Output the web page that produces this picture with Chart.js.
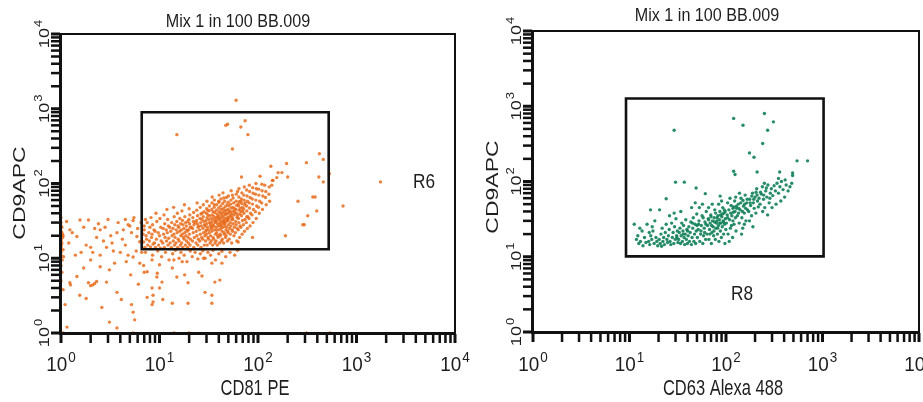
<!DOCTYPE html>
<html>
<head>
<meta charset="utf-8">
<script src="https://cdn.jsdelivr.net/npm/chart.js@4.4.1/dist/chart.umd.min.js"></script>
<style>
  html, body { margin: 0; padding: 0; background: #fff; }
  #wrap { position: relative; width: 923px; height: 402px; overflow: hidden; }
  #left { position: absolute; left: 0; top: 0; }
  #right { position: absolute; left: 470px; top: 0; }
</style>
</head>
<body>
<div id="wrap">
  <canvas id="left" width="470" height="402"></canvas>
  <canvas id="right" width="453" height="402"></canvas>
</div>
<script>
// axis decades (log scale 10^0 .. 10^4) and minor tick multipliers
const decades = [1, 10, 100, 1000, 10000];
const minorSteps = [2, 3, 4, 5, 6, 7, 8, 9];

// gates (x range, y range)
const gateR6X = [6.6, 522];
const gateR6Y = [13.2, 897];
const gateR8X = [9.2, 1026];
const gateR8Y = [10.1, 1268];

// left plot: CD81 PE (x) vs CD9APC (y), events
const cd81Cluster = [
  [7.1,14],[6.9,16.5],[7.3,20],[7.0,24],[7.6,15],[7.4,18],[7.8,22],[7.5,30],
  [8.1,14.2],[7.9,17],[8.3,19],[8.0,26],[8.2,35],[8.6,15.5],[8.4,21],[8.8,24],[8.5,28],
  [9.1,14],[8.9,16],[9.3,18],[9.0,23],[9.4,31],[9.2,40],
  [10.2,13.6],[9.8,15],[10.4,17],[10.0,20],[9.7,22],[10.3,26],[10.1,34],
  [11.2,14],[10.8,16],[11.4,19],[11.0,21],[10.9,25],[11.3,29],[11.1,38],
  [12.2,15],[11.8,17],[12.4,18.5],[12.0,22],[11.7,24],[12.3,27],[12.1,33],[11.9,45],
  [13.2,14],[12.8,16],[13.4,20],[13.0,23],[12.7,26],[13.3,30],
  [14.2,15],[13.8,17],[14.4,19],[14.0,21],[13.7,25],[14.3,28],[14.1,36],[13.9,48],
  [15.3,14],[14.7,16],[15.5,18],[15.1,22],[14.8,24],[15.4,27],[15.0,31],[15.2,40],
  [16.3,15],[15.8,17],[16.5,20],[16.0,23],[15.7,26],[16.4,29],[16.1,34],
  [17.2,14],[16.8,16],[17.5,19],[17.0,21],[16.7,24],[17.3,28],[17.1,32],[16.9,43],
  [18.3,15],[17.8,18],[18.5,20],[18.0,22],[17.7,25],[18.4,30],[18.1,36],[17.9,52],
  [19.3,14],[18.8,17],[19.5,19],[19.0,23],[18.7,27],[19.4,31],
  [20.4,15],[19.7,16],[20.6,18],[20.1,21],[19.8,24],[20.5,26],[20.2,29],[19.9,33],[20.3,38],[20.0,46],
  [22.3,14],[21.6,17],[22.6,19],[22.0,22],[21.7,25],[22.4,28],[22.1,31],[21.8,35],[22.2,41],
  [24.5,15],[23.5,16],[24.8,18],[24.0,20],[23.6,23],[24.6,26],[24.2,29],[23.8,32],[24.3,37],[23.9,44],[24.1,55],
  [26.4,14],[25.6,17],[26.8,19],[26.0,21],[25.5,24],[26.6,27],[26.2,30],[25.8,34],[26.3,39],[25.9,48],
  [28.5,15],[27.5,18],[28.9,20],[28.0,22],[27.6,25],[28.7,28],[28.2,31],[27.8,36],[28.3,42],[27.9,52],
  [30.5,15],[29.4,17],[31.0,19],[30.0,21],[29.5,23],[30.7,26],[30.2,29],[29.7,32],[30.4,35],[29.9,40],[30.1,46],[30.3,58],
  [32.6,16],[31.5,18],[33.0,20],[32.0,22],[31.6,24],[32.8,27],[32.2,30],[31.8,33],[32.4,37],[31.9,43],[32.1,50],
  [34.6,15],[33.5,17],[35.0,19],[34.0,23],[33.6,25],[34.8,28],[34.2,31],[33.8,34],[34.4,38],[33.9,45],[34.1,55],[34.3,66],
  [36.6,16],[35.5,18],[37.0,21],[36.0,24],[35.6,27],[36.8,30],[36.2,33],[35.8,36],[36.4,41],[35.9,48],[36.1,60],
  [38.6,15],[37.5,17],[39.0,20],[38.0,22],[37.6,26],[38.8,29],[38.2,32],[37.8,35],[38.4,39],[37.9,44],[38.1,52],
  [40.7,16],[39.4,19],[41.2,21],[40.0,24],[39.6,27],[40.9,30],[40.2,34],[39.8,37],[40.5,42],[39.9,47],[40.1,56],[40.3,70],
  [42.7,17],[41.5,20],[43.2,23],[42.0,25],[41.6,28],[42.9,31],[42.2,35],[41.8,40],[42.4,45],[41.9,50],[42.1,62],
  [44.8,16],[43.4,18],[45.3,22],[44.0,26],[43.6,29],[44.9,33],[44.2,36],[43.8,41],[44.5,46],[43.9,54],[44.1,75],
  [46.8,19],[45.5,21],[47.3,24],[46.0,27],[45.6,30],[46.9,34],[46.2,38],[45.8,43],[46.4,49],[45.9,58],
  [48.9,17],[47.4,20],[49.4,23],[48.0,26],[47.6,31],[49.0,35],[48.2,39],[47.8,44],[48.5,52],[47.9,65],
  [51.0,18],[49.5,22],[51.5,25],[50.0,28],[49.6,32],[51.2,36],[50.3,40],[49.8,45],[50.6,50],[49.9,56],[50.1,68],
  [54.0,16],[52.3,21],[54.6,24],[53.0,27],[52.5,30],[54.2,33],[53.3,37],[52.8,42],[53.6,47],[52.9,53],[53.1,60],[53.4,80],
  [57.0,20],[55.2,23],[57.6,26],[56.0,29],[55.5,33],[57.2,38],[56.3,43],[55.8,48],[56.6,55],[55.9,64],
  [61.0,17],[59.0,22],[61.6,25],[60.0,28],[59.4,31],[61.2,35],[60.3,40],[59.7,45],[60.6,51],[59.9,58],[60.2,72],
  [65.0,19],[63.0,24],[65.7,27],[64.0,30],[63.4,34],[65.2,39],[64.3,44],[63.7,50],[64.6,57],[63.9,66],[64.1,85],
  [69.0,21],[67.0,26],[69.7,32],[68.0,37],[67.4,42],[69.2,48],[68.3,54],[67.7,62],[68.6,75],
  [73.0,23],[71.0,28],[73.8,33],[72.0,40],[71.4,46],[73.2,52],[72.3,60],[71.7,70],[72.6,90],
  [78.0,25],[76.0,30],[78.8,36],[77.0,43],[76.4,50],[78.2,58],[77.3,68],[76.7,82],
  [83.0,27],[81.0,34],[84.0,40],[82.0,47],[81.4,55],[83.2,65],[82.3,78],[81.7,95],
  [89.0,30],[87.0,38],[90.0,45],[88.0,53],[87.4,62],[89.2,74],[88.3,88],
  [96.0,34],[94.0,42],[97.0,50],[95.0,60],[94.4,72],[96.2,85],[95.3,100],
  [103,40],[101,48],[104,58],[102,70],[101.5,84],[111,45],[109,55],[112,68],[110,80],[109.5,98],
  [121,52],[119,65],[120,78],[131,58],[129,72],[130,90],
  [27,33],[29,27],[31,38],[33,29],[35,42],[37,31],[39,36],[41,33],[43,38],[45,31],[47,40],[49,33],
  [51,43],[55,35],[58,41],[62,37],[66,46],[70,43],[74,55],[30,24],[34,26],[38,24],[42,27],[46,29],
  [50,34],[54,39],[58,46],[63,53],[67,58],[23,30],[25,27],[21,26],[19,24],[27,40],[31,44],[36,52],
  [40,58],[45,64],[55,70],[62,78]
];
const cd81Tail = [
  [1.14,31],[1.56,32.5],[1.9,32.5],[1.23,24],[2.2,25],[2.5,24],[2.8,26],[1.05,20],[1.45,19.5],[1.8,15],
  [2.1,12],[2.5,11],[2.9,14],[3.3,16],[3.7,22],[4.3,24],[4.8,28],[5.4,32],[5.2,22],[5.9,19.5],[6.3,16.6],
  [4.5,15],[4,12],[3.5,8.6],[3.1,7],[2.5,7.7],[2,9.5],[1.7,7.4],[1.45,5.7],[1.23,4.7],[1.05,3.8],[1.9,4.7],
  [2.1,4.4],[2.9,4.8],[3.7,3.5],[1.55,3.2],[1.8,2.9],[5.4,10.4],[6.3,8.6],[7.5,6.6],[8.4,9.5],[9.4,5.6],
  [10,4],[8.6,2.6],[7.5,3],[5.2,2.4],[5.4,1.9],[5.6,1.5],[3.1,1.4],[3.7,1.17],[1.15,1.2],[1.1,2.4],
  [1,12],[1,14],[1.02,16],[1,18],[1.03,21],[1,23],[1.02,26],[1,30],[1.05,13],[1,11],[1.04,19],[1,8],
  [1.02,6.5],[1,5],[1.03,9.5],[1,27],[1.01,15],[1.0,17],[1.02,22],[1.0,35],[1.06,10.5],
  [3.8,30],[4.5,33],[5,27],[6,25],[6.5,30],[5.5,35],[4.2,18],[3.2,20],[2.7,17],[2.3,19],[2,14],[1.6,12],
  [1.4,11],[1.2,16],[1.3,22],[1.7,26],[2.4,29],[3,33],[6.6,12],[6.8,21],[7,27],[7.2,33],[5.8,12.5],[4.8,11],
  [2.2,4.6],[2.0,4.3],[2.3,4.9],[1.25,4.4],[3.4,12.5],[4.6,9],[5.1,6],[6.1,4.5],[6.9,8],[2.6,2.2],[4.1,2.8]
];
const cd81Low = [
  [7.2,12],[8.5,11],[9.6,12.5],[10.5,10.5],[11.5,12],[12.5,9.5],[13.6,11.5],[14.5,12.8],[15.8,10],[16.5,12],
  [17.8,11],[19,9],[20.5,12.5],[21.5,10.5],[23,12],[24.5,9.8],[26,11.5],[27.5,12.6],[29,10],[31,12],[33,11],
  [35,12.8],[37,9.5],[40,11.5],[43,12.4],[47,10.5],[52,12],[58,11],[62,12.8],
  [7,6.5],[8.4,4],[8.6,3.2],[8.4,2.4],[9.5,6.3],[10.6,4.8],[10.8,2.8],[13.5,2.5],[13.5,7.4],[15,5.6],[18,6],
  [19.5,4.7],[19.5,2.5],[25,6.5],[27,5.8],[29,3.5],[34,3.2],[34,2.5],[36.5,4.8],[41,5.1],[43,8.6],[34,8.6],
  [28,10],[14,9.5],[10,8.2],[17,9],
  [1.05,1],[5.4,1],[14,1],[20,1],[310,1],[540,1]
];
const cd81High = [
  [60,1300],[47,600],[49,620],[67,570],[74,690],[79,450],[15,450],[55,290],
  [310,190],[195,185],[420,250],[460,210],[530,135],[460,105],[415,122],[135,170],[160,140],[140,110],
  [117,95],[255,58],[395,43],[295,28],[190,20],[730,50],[1750,105],[360,66],[88,19],[77,36],
  [175,140],[155,120],[142,110],[200,122],[105,125],[68,122],[138,95],[380,66],[320,37],[285,28],[63,16.5]
];

// right plot: CD63 Alexa 488 (x) vs CD9APC (y)
const cd63Cluster = [
  [11.2,27],[11.8,17],[12.5,15],[12.2,19],[13.0,16],[13.5,22],[13.8,14],[14.3,18],[14.8,15.5],[15.2,27],[12.8,24],
  [15.8,16],[16.2,14.5],[16.6,19],[17.0,17],[17.5,22],[18.0,15],[18.3,30],[18.8,18],[19.2,16],[19.6,14],[17.2,25],[16.0,21],
  [20.3,17],[20.8,15],[21.2,20],[21.8,24],[22.2,16],[22.6,18],[23.0,14.5],[23.5,21],[24.0,27],[24.4,17],[24.8,15.5],[21.5,13.8],
  [25.3,19],[25.8,23],[26.3,16],[26.8,14.5],[27.3,28],[27.8,18],[28.3,21],[28.8,15],[29.3,25],[29.8,17],[30.3,32],
  [30.8,19],[31.3,22],[31.8,15.5],[26,35],[29,38],
  [32.3,17],[32.8,21],[33.3,24],[33.8,15],[34.3,19],[34.8,28],[35.3,16],[35.8,22],[36.3,26],[36.8,18],[37.3,14.5],
  [37.8,20],[38.3,31],[38.8,17],[39.3,23],[39.8,15],[34,40],
  [40.5,19],[41.2,25],[41.8,16],[42.5,21],[43.2,29],[43.8,14.5],[44.5,18],[45.2,24],[45.8,33],[46.5,16],[47.2,20],
  [47.8,27],[48.5,15],[49.2,22],[49.8,37],[44,45],[48,52],
  [50.5,18],[51.5,23],[52.5,30],[53.5,16],[54.5,20],[55.5,26],[56.5,35],[57.5,15],[58.5,19],[59.5,24],[60.5,29],
  [61.5,17],[62.5,40],[53,45],[57,50],[60,21],[55,22],[52,27],
  [63.5,20],[64.5,26],[65.5,32],[66.5,17],[67.5,23],[68.5,28],[69.5,36],[70.5,15],[71.5,21],[72.5,30],[73.5,25],
  [74.5,19],[75.5,33],[76.5,42],[77.5,17],[78.5,24],[79.5,28],[66,45],[72,50],[70,34],[75,22],[68,20],[78,38],
  [80.5,30],[81.5,20],[82.5,35],[83.5,26],[84.5,16],[85.5,31],[86.5,40],[87.5,22],[88.5,28],[89.5,18],[90.5,34],
  [91.5,25],[92.5,45],[93.5,30],[94.5,20],[95.5,38],[96.5,27],[97.5,15],[98.5,32],[99.5,23],[84,50],[90,55],
  [96,42],[88,36],[82,24],[94,29],
  [101,28],[103,36],[105,20],[107,42],[109,31],[111,24],[113,48],[115,35],[117,18],[119,39],[121,27],[123,55],
  [125,33],[127,22],[129,44],[104,52],[110,60],[118,30],[124,40],[108,16],[114,26],[126,62],[120,46],
  [131,35],[134,50],[137,28],[140,42],[143,60],[146,33],[149,24],[152,47],[155,38],[158,66],[161,30],[164,52],
  [167,42],[138,70],[150,56],[160,44],[145,20],[135,38],[155,27],
  [172,40],[176,58],[180,48],[184,35],[188,70],[192,52],[196,44],[200,62],[204,38],[208,80],[212,55],[216,46],
  [175,30],[190,25],[205,72],[220,60],[185,64],
  [225,50],[232,68],[238,85],[245,58],[252,45],[258,75],[265,62],[272,90],[280,52],[288,70],[295,80],[240,40],
  [270,36],[250,95],[285,60],
  [305,65],[315,88],[325,75],[338,95],[350,70],[362,85],[375,100],[390,78],[405,62],[420,90],[440,75],[460,85],
  [480,95],[330,50],[370,55],[410,105],[350,110],[300,45],
  [62,27],[66,31],[71,26],[76,29],[81,33],[86,28],[92,37],[98,40],[104,33],[112,38],[118,44],[128,47],
  [136,44],[142,52],[148,40],[156,50],[166,58],[178,52],[194,58],[210,66],[228,72],[246,66],[262,82],
  [58,33],[50,26],[45,28],[40,22],[36,20],[31,18]
];
const cd63High = [
  [29,480],[120,690],[150,560],[250,800],[310,620],[270,480],[240,320],[175,240],[195,210],[120,137],[124,124],
  [210,134],[360,134],[545,188],[700,188],[490,130],[490,120],[30,98],[37,98],[49,82],[24,59],[16.5,42],
  [20.5,42],[61,69],[87,64]
];

const FONT = '"Liberation Sans", Arial, Helvetica, sans-serif';
const INK = '#111111';

function toPoints(list) {
  return list.map(p => ({ x: p[0], y: p[1] }));
}

function gateOutline(gx, gy) {
  return [
    { x: gx[0], y: gy[0] }, { x: gx[0], y: gy[1] },
    { x: gx[1], y: gy[1] }, { x: gx[1], y: gy[0] }, { x: gx[0], y: gy[0] }
  ];
}

// every tick of a 4-decade log axis: 1..9 per decade plus the last decade
function tickValues() {
  const vals = [];
  decades.forEach(d => {
    vals.push({ value: d, major: true });
    if (d < decades[decades.length - 1]) {
      minorSteps.forEach(m => vals.push({ value: m * d, major: false }));
    }
  });
  return vals;
}

// text squeezed horizontally, like the scanned figure
function squeezed(ctx, text, x, y, size, sx, align) {
  ctx.save();
  ctx.font = size + 'px ' + FONT;
  ctx.translate(x, y);
  ctx.scale(sx, 1);
  ctx.textAlign = align || 'center';
  ctx.textBaseline = 'alphabetic';
  ctx.fillText(text, 0, 0);
  ctx.restore();
}

function textWidth(ctx, text, size) {
  ctx.font = size + 'px ' + FONT;
  return ctx.measureText(text).width;
}

const facsText = {
  id: 'facsText',
  afterDraw(chart, args, o) {
    const ctx = chart.ctx;
    const a = chart.chartArea;
    const xs = chart.scales.x;
    const ys = chart.scales.y;
    const L = Math.round(a.left), R = Math.round(a.right);
    const T = Math.round(a.top), B = Math.round(a.bottom);
    ctx.save();
    ctx.fillStyle = INK;

    // frame: thin top/right, heavy left/bottom axes
    ctx.fillRect(L, T - 1, R - L + 1, 2);
    ctx.fillRect(R - 1, T - 1, 2, B - T + 2);
    ctx.fillRect(L - 2, B - 1, R - L + 3, 3);
    ctx.fillRect(L - 2, T - 1, 3, B - T + 3);

    // tick marks, pointing outwards
    tickValues().forEach(t => {
      const w = t.major ? 3 : 2.5;
      const px = xs.getPixelForValue(t.value);
      ctx.fillRect(px - w / 2, B + 1, w, 9);
      const py = ys.getPixelForValue(t.value);
      ctx.fillRect(L - 10, py - w / 2, 9, w);
    });

    ctx.fillStyle = '#1e1e1e';
    // x tick labels 10^n
    decades.forEach((d, i) => {
      const cx = xs.getPixelForValue(d);
      const w1 = textWidth(ctx, '10', 21) * 0.9;
      const w2 = textWidth(ctx, String(i), 15) * 0.9;
      const x0 = cx - (w1 + w2 + 1) / 2;
      squeezed(ctx, '10', x0, 371, 21, 0.9, 'left');
      squeezed(ctx, String(i), x0 + w1 + 1, 362, 15, 0.9, 'left');
    });

    // y tick labels, rotated
    decades.forEach((d, i) => {
      const cy = ys.getPixelForValue(d);
      const w1 = textWidth(ctx, '10', 18);
      const w2 = textWidth(ctx, String(i), 13);
      ctx.save();
      ctx.translate(L - 12, cy);
      ctx.rotate(-Math.PI / 2);
      ctx.scale(1, 0.78);
      ctx.textBaseline = 'alphabetic';
      ctx.textAlign = 'left';
      const x0 = -(w1 + w2 + 1) / 2;
      ctx.font = '18px ' + FONT;
      ctx.fillText('10', x0, 0);
      ctx.font = '13px ' + FONT;
      ctx.fillText(String(i), x0 + w1 + 1, -9);
      ctx.restore();
    });

    squeezed(ctx, o.title, o.titleX, o.titleY, 19, 0.85);
    squeezed(ctx, o.xTitle, o.xTitleX, 395, 22, 0.75);
    squeezed(ctx, o.gateName, o.gateX, o.gateY, 21, 0.82);

    // y axis title
    ctx.save();
    ctx.translate(o.yTitleX, o.yTitleY);
    ctx.rotate(-Math.PI / 2);
    ctx.scale(1, 0.73);
    ctx.font = '23px ' + FONT;
    ctx.textAlign = 'center';
    ctx.textBaseline = 'alphabetic';
    ctx.fillText('CD9APC', 0, 0);
    ctx.restore();

    ctx.restore();
  }
};

function axisOptions(fitKey, fitSize, pos) {
  return {
    type: 'logarithmic',
    position: pos,
    min: 1,
    max: 10000,
    afterFit: s => { s[fitKey] = fitSize; },
    border: { display: false },
    grid: { display: false },
    ticks: { display: false }
  };
}

function makePlot(id, events, color, gx, gy, layout, text) {
  return new Chart(document.getElementById(id), {
    type: 'scatter',
    data: {
      datasets: [
        {
          data: gateOutline(gx, gy),
          showLine: true,
          borderColor: INK,
          borderWidth: 2.6,
          borderJoinStyle: 'miter',
          borderCapStyle: 'square',
          pointRadius: 0,
          fill: false
        },
        {
          data: toPoints(events),
          backgroundColor: color,
          pointRadius: 1.7,
          pointBorderWidth: 0
        }
      ]
    },
    options: {
      responsive: false,
      animation: false,
      events: [],
      layout: { padding: { left: 0, right: layout.right, top: layout.top, bottom: 0 } },
      scales: {
        x: axisOptions('height', layout.xh, 'bottom'),
        y: axisOptions('width', layout.yw, 'left')
      },
      plugins: {
        legend: { display: false },
        tooltip: { enabled: false },
        facsText: text
      }
    },
    plugins: [facsText]
  });
}

makePlot('left',
  cd81Cluster.concat(cd81Tail, cd81Low, cd81High),
  'rgba(232,108,28,0.85)', gateR6X, gateR6Y,
  { right: 15, top: 34, xh: 69, yw: 61 },
  { title: 'Mix 1 in 100 BB.009', titleX: 238, titleY: 27,
    xTitle: 'CD81 PE', xTitleX: 255,
    yTitleX: 25, yTitleY: 193,
    gateName: 'R6', gateX: 424, gateY: 188 });

makePlot('right',
  cd63Cluster.concat(cd63High),
  'rgba(16,128,88,0.9)', gateR8X, gateR8Y,
  { right: 2, top: 31, xh: 70, yw: 63 },
  { title: 'Mix 1 in 100 BB.009', titleX: 237, titleY: 21,
    xTitle: 'CD63 Alexa 488', xTitleX: 253,
    yTitleX: 28, yTitleY: 187,
    gateName: 'R8', gateX: 272, gateY: 300 });
</script>
</body>
</html>
